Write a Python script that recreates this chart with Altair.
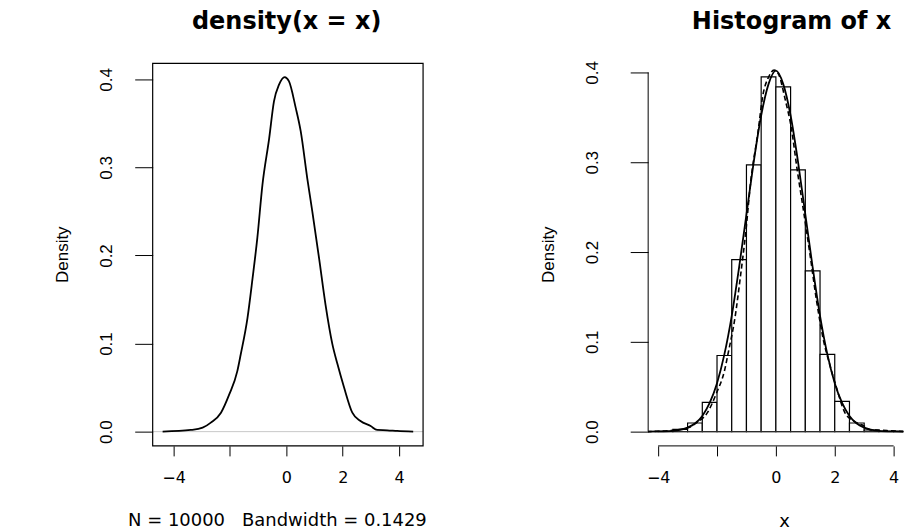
import altair as alt
import pandas as pd

# ---------------- data ----------------
# left panel: kernel density estimate
dens_x = [-4.39, -3.39, -2.97, -2.68, -2.32, -2.03, -1.74, -1.62, -1.38, -1.20, -1.03,
          -0.85, -0.61, -0.44, -0.26, -0.06, 0.09, 0.33, 0.51, 0.74, 0.92, 1.16, 1.39,
          1.63, 1.81, 2.04, 2.34, 2.63, 2.99, 3.22, 3.58, 3.93, 4.50]
dens_y = [0.0, 0.0019, 0.0045, 0.0102, 0.0215, 0.042, 0.0687, 0.0876, 0.129, 0.174, 0.220,
          0.280, 0.333, 0.375, 0.394, 0.4026, 0.398, 0.368, 0.341, 0.288, 0.25, 0.197, 0.144,
          0.0997, 0.077, 0.051, 0.0215, 0.012, 0.0064, 0.0019, 0.0015, 0.0008, 0.0]

# right panel: histogram (bin left edges, width 0.5) and densities
bin_lo = [-4.0, -3.5, -3.0, -2.5, -2.0, -1.5, -1.0, -0.5, 0.0, 0.5, 1.0, 1.5, 2.0, 2.5, 3.0, 3.5, 4.0]
bin_h = [0.0004, 0.0026, 0.0096, 0.0326, 0.0848, 0.1915, 0.297, 0.395, 0.384, 0.2915, 0.179,
         0.086, 0.0337, 0.0096, 0.0018, 0.0004, 0.0002]
bin_w = 0.5

norm_x = [-4.5, -4.0, -3.5, -3.0, -2.75, -2.5, -2.25, -2.0, -1.75, -1.5, -1.25, -1.0, -0.75,
          -0.5, -0.25, 0.0, 0.25, 0.5, 0.75, 1.0, 1.25, 1.5, 1.75, 2.0, 2.25, 2.5, 2.75, 3.0,
          3.5, 4.0, 4.5]
norm_y = [0.0, 0.0002, 0.0009, 0.0045, 0.009, 0.0175, 0.032, 0.054, 0.086, 0.129, 0.183, 0.242,
          0.301, 0.352, 0.387, 0.402, 0.387, 0.352, 0.301, 0.242, 0.183, 0.129, 0.086, 0.054,
          0.032, 0.0175, 0.009, 0.0045, 0.0009, 0.0002, 0.0]

kde_x = dens_x
kde_y = dens_y

x_ticks = [-4, -2, 0, 2, 4]
y_ticks = [0.0, 0.1, 0.2, 0.3, 0.4]

left_title = "density(x = x)"
left_sub = "N = 10000\u00a0\u00a0 Bandwidth = 0.1429"
right_title = "Histogram of x"
right_xlab = "x"
ylab = "Density"

# ---------------- layout ----------------
HFONT = "DejaVu Sans, Liberation Sans, sans-serif"
VFONT = "Liberation Sans, Arial, Helvetica, sans-serif"
LW, LH = 271, 383.3
RW, RH = 255.7, 383.3

lx = alt.Scale(domain=[-4.743, 4.850], nice=False, zero=False)
ly = alt.Scale(domain=[-0.0162, 0.4181], nice=False, zero=False)
rx = alt.Scale(domain=[-4.339, 4.329], nice=False, zero=False)
ry = alt.Scale(domain=[-0.01589, 0.41], nice=False, zero=False)


def xaxis(pad):
    return alt.Axis(values=x_ticks, labelExpr="datum.value == -2 ? '' : datum.label",
                    domain=False, grid=False, tickSize=10, tickColor="black", tickWidth=1,
                    labelFont=HFONT, labelFontSize=16, labelColor="black", labelPadding=pad,
                    title=None, labelFlush=False, labelOverlap=False)


def yaxis(pad):
    return alt.Axis(values=y_ticks, format=".1f", domain=False, grid=False, tickSize=18,
                    tickColor="black", tickWidth=1, labelAngle=270, labelAlign="center",
                    labelBaseline="bottom", labelPadding=pad, labelFont=VFONT, labelFontSize=17,
                    labelColor="black", title=None, labelFlush=False, labelOverlap=False)


LXA = xaxis(14)
LYA = yaxis(19)
RXA = xaxis(14)
RYA = yaxis(29)

one = pd.DataFrame({"k": [0]})
dens_df = pd.DataFrame({"x": dens_x, "y": dens_y})
zero_df = pd.DataFrame({"y": [0.0]})

# ----- left panel -----
l_zero = alt.Chart(zero_df).mark_rule(color="#c8c8c8", strokeWidth=1).encode(
    y=alt.Y("y:Q", scale=ly, axis=LYA), x=alt.value(0), x2=alt.value(LW))
l_line = alt.Chart(dens_df).mark_line(color="black", strokeWidth=1.8, interpolate="monotone").encode(
    x=alt.X("x:Q", scale=lx, axis=LXA), y=alt.Y("y:Q", scale=ly, axis=LYA))
l_box = alt.Chart(one).mark_rect(filled=False, stroke="black", strokeWidth=1.2).encode(
    x=alt.value(0), x2=alt.value(LW), y=alt.value(0), y2=alt.value(LH))
l_title = alt.Chart(one).mark_text(text=left_title, font=HFONT, fontSize=24, fontWeight="bold",
                                   align="center", baseline="alphabetic").encode(
    x=alt.value(134.3), y=alt.value(-35))
l_sub = alt.Chart(one).mark_text(text=left_sub, font=HFONT, fontSize=18, align="center",
                                 baseline="alphabetic").encode(
    x=alt.value(125), y=alt.value(LH + 80))
l_ylab = alt.Chart(one).mark_text(text=ylab, font=VFONT, fontSize=17, angle=270, align="center",
                                  baseline="middle").encode(
    x=alt.value(-90), y=alt.value(LH / 2))
l_mark = alt.Chart(one).mark_rule(color="white", strokeWidth=1).encode(
    x=alt.value(-143.7), x2=alt.value(-142.7), y=alt.value(-53.7), y2=alt.value(-52.7))

left = alt.layer(l_zero, l_line, l_box, l_title, l_sub, l_ylab, l_mark).properties(width=LW, height=LH)

# ----- right panel -----
hist_df = pd.DataFrame({"lo": bin_lo, "hi": [v + bin_w for v in bin_lo], "h": bin_h,
                        "b": [0.0] * len(bin_lo)})
norm_df = pd.DataFrame({"x": norm_x, "y": norm_y})
kde_df = pd.DataFrame({"x": kde_x, "y": kde_y})
yline_df = pd.DataFrame({"a": [y_ticks[0]], "b": [y_ticks[-1]]})
xline_df = pd.DataFrame({"a": [x_ticks[0]], "b": [x_ticks[-1]]})

r_bars = alt.Chart(hist_df).mark_rect(fill="white", stroke="black", strokeWidth=1.2,
                                      clip=True).encode(
    x=alt.X("lo:Q", scale=rx, axis=RXA), x2="hi",
    y=alt.Y("h:Q", scale=ry, axis=RYA), y2="b")
r_base = alt.Chart(zero_df).mark_rule(color="#333333", strokeWidth=1).encode(
    y=alt.Y("y:Q", scale=ry, axis=RYA), x=alt.value(0), x2=alt.value(RW))
r_norm = alt.Chart(norm_df).mark_line(color="black", strokeWidth=1.8, interpolate="monotone",
                                      clip=True).encode(
    x=alt.X("x:Q", scale=rx, axis=RXA), y=alt.Y("y:Q", scale=ry, axis=RYA))
r_kde = alt.Chart(kde_df).mark_line(color="black", strokeWidth=1.6, strokeDash=[5, 3],
                                    interpolate="monotone", clip=True).encode(
    x=alt.X("x:Q", scale=rx, axis=RXA), y=alt.Y("y:Q", scale=ry, axis=RYA))
r_yline = alt.Chart(yline_df).mark_rule(color="black", strokeWidth=1).encode(
    x=alt.value(0), y=alt.Y("a:Q", scale=ry, axis=RYA), y2="b")
r_xline = alt.Chart(xline_df).mark_rule(color="black", strokeWidth=1).encode(
    x=alt.X("a:Q", scale=rx, axis=RXA), x2="b", y=alt.value(RH))
r_title = alt.Chart(one).mark_text(text=right_title, font=HFONT, fontSize=24, fontWeight="bold",
                                   align="center", baseline="alphabetic").encode(
    x=alt.value(143.7), y=alt.value(-35))
r_xlab = alt.Chart(one).mark_text(text=right_xlab, font=HFONT, fontSize=18, align="center",
                                  baseline="alphabetic").encode(
    x=alt.value(136.7), y=alt.value(RH + 81))
r_ylab = alt.Chart(one).mark_text(text=ylab, font=VFONT, fontSize=17, angle=270, align="center",
                                  baseline="middle").encode(
    x=alt.value(-99.5), y=alt.value(RH / 2))

right = alt.layer(r_bars, r_base, r_norm, r_kde, r_yline, r_xline, r_title, r_xlab, r_ylab).properties(
    width=RW, height=RH)

chart = alt.hconcat(left, right, spacing=225.6, bounds="flush").properties(
    padding=0).configure_view(stroke=None)

chart.save("out.html", embed_options={"renderer": "svg", "actions": False})
